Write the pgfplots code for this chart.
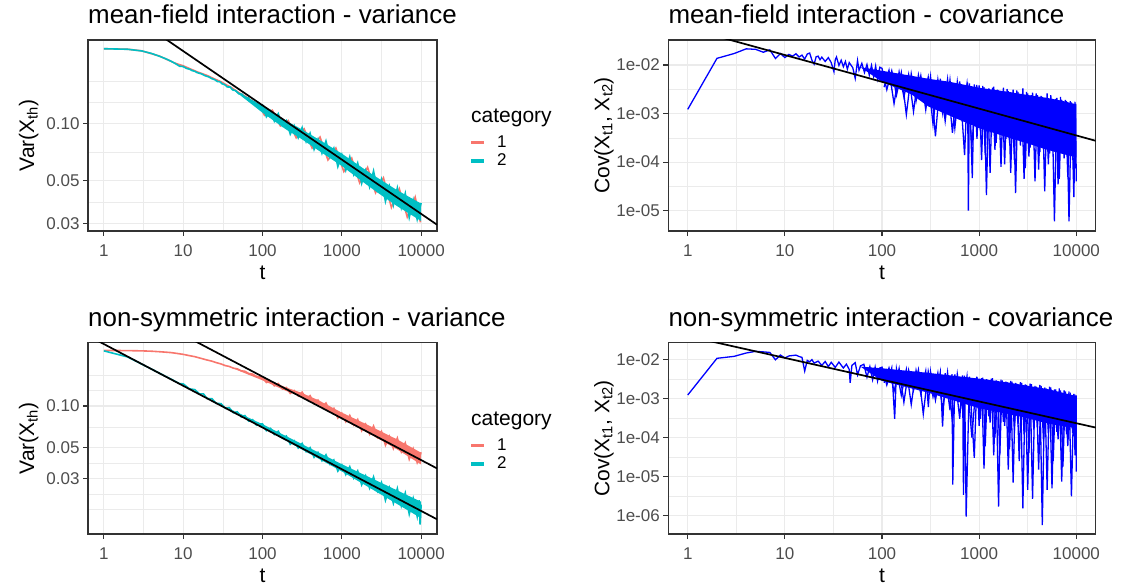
\documentclass[border=0pt]{standalone}
\usepackage{pgfplots}
\pgfplotsset{compat=1.18}
\usepackage{fontspec}
\setmainfont{Liberation Sans}
\definecolor{cA}{HTML}{F8766D}
\definecolor{cB}{HTML}{00BFC4}
\definecolor{gridc}{HTML}{EBEBEB}
\definecolor{framec}{HTML}{333333}
\definecolor{ticklab}{HTML}{4D4D4D}
\newcommand{\titlefont}{\fontsize{25.9}{30}\selectfont}
\newcommand{\labfont}{\fontsize{21}{25}\selectfont}
\newcommand{\tickfont}{\fontsize{17}{20}\selectfont}
\pgfplotsset{
  ggbase/.style={
    scale only axis,
    xmin=0.631, xmax=15849,
    xtick={1,10,100,1000,10000},
    xticklabels={1,10,100,1000,10000},
    minor xtick={3.162,31.62,316.2,3162},
    grid=both,
    major grid style={draw=gridc, line width=1.1pt},
    minor grid style={draw=gridc, line width=0.55pt},
    axis line style={draw=framec, line width=1.1pt},
    tick align=outside,
    xtick pos=bottom, ytick pos=left,
    major tick length=5pt, minor tick length=0pt,
    tick style={draw=framec, line width=1.1pt},
    tick label style={font=\tickfont, text=ticklab},
    xticklabel style={yshift=-5pt},
    xlabel={t},
    xlabel style={font=\labfont, at={(axis description cs:0.5,0)}, anchor=base, yshift=-48pt},
    ylabel style={font=\labfont, at={(axis description cs:0,0.5)}, anchor=base},
    title style={font=\titlefont, at={(axis description cs:0,1)}, anchor=base west, inner sep=0pt, yshift=10.4pt},
  },
}
\begin{document}
\begin{tikzpicture}
\path[use as bounding box] (0pt,0pt) rectangle (1147pt,587pt);

% ---------------- panel 1 ----------------
\begin{axis}[ggbase, xmode=log, ymode=log, name=a1, at={(88pt,356pt)}, anchor=south west,
  width=349pt, height=191pt,
  ymin=0.0273, ymax=0.2729,
  ytick={0.03,0.05,0.1}, yticklabels={0.03,0.05,0.10},
  minor ytick={0.0387,0.0707,0.1291,0.1667},
  title={mean-field interaction - variance},
  ylabel={Var(X\textsubscript{th})}, ylabel style={yshift=54pt},
  legend style={at={(axis description cs:1.0974,0.499)}, anchor=north west, draw=none, fill=none,
      inner sep=0pt, row sep=5pt, font=\tickfont, nodes={inner sep=0pt}},
  legend cell align=left]
\addlegendimage{legend image code/.code={\fill[cA] (0pt,-1.1pt) rectangle (12.3pt,1.1pt); \path (25.5pt,0pt);}}
\addlegendentry{1}
\addlegendimage{legend image code/.code={\fill[cB] (0pt,-1.1pt) rectangle (12.3pt,1.1pt); \path (25.5pt,0pt);}}
\addlegendentry{2}
\addplot[cA, line width=1.6pt, forget plot] coordinates {
(1,0.2457) (2,0.2442) (3,0.2395) (5,0.2250) (8,0.2060) (10,0.2000) (12,0.1935) (15,0.1860)
(20,0.1780) (25,0.1705) (30,0.1650) (35,0.1590) (40,0.1545) (50,0.1450) (60,0.1388) (70,0.1330)
(80,0.1278) (94,0.1208)
(106,0.1101) (133,0.1171) (168,0.0969) (211,0.1034) (266,0.0839) (335,0.0935) (422,0.0742)
(531,0.0847) (668,0.0643) (841,0.0742) (1059,0.0559) (1334,0.0656) (1679,0.0488) (2113,0.0588)
(2661,0.0433) (3350,0.0518) (4217,0.0363) (5309,0.0454) (6683,0.0323) (8414,0.0411) (9800,0.0303)
};
\addplot[cB, line width=1.6pt, forget plot] coordinates {
(1,0.2457) (2,0.2440) (3,0.2392) (4,0.2320) (5,0.2245) (6,0.2178) (7,0.2115) (8,0.2052) (9,0.1990)
(10,0.1982) (11,0.1938) (12,0.1920) (13,0.1887) (14,0.1872) (15,0.1842) (17,0.1815) (19,0.1772)
(21,0.1750) (23,0.1712) (25,0.1692) (27,0.1655) (29,0.1650) (31,0.1608) (33,0.1598) (36,0.1550)
(39,0.1548) (42,0.1495) (46,0.1482) (50,0.1428) (55,0.1420) (60,0.1365) (66,0.1358) (72,0.1292)
(79,0.1292) (87,0.1222) (94,0.1230)
(100,0.1244) (112,0.1081) (126,0.1160) (141,0.1026) (158,0.1122) (178,0.0971) (200,0.1032)
(224,0.0877) (251,0.0970) (282,0.0840) (316,0.0949) (355,0.0802) (398,0.0888) (447,0.0730)
(501,0.0825) (562,0.0697) (631,0.0807) (708,0.0665) (794,0.0740) (891,0.0593) (1000,0.0685)
(1122,0.0568) (1259,0.0667) (1413,0.0541) (1585,0.0619) (1778,0.0485) (1995,0.0566) (2239,0.0465)
(2512,0.0563) (2818,0.0448) (3162,0.0510) (3548,0.0390) (3981,0.0467) (4467,0.0373) (5012,0.0459)
(5623,0.0361) (6310,0.0430) (7079,0.0321) (7943,0.0396) (8913,0.0314) (10000,0.0383)
};
\addplot[cB, fill=cB, draw=none, forget plot] coordinates {
(40,0.1530) (100,0.1234) (200,0.1028) (300,0.0939) (500,0.0828) (1000,0.0694) (2000,0.0569) (3000,0.0510)
(5000,0.0446) (10000,0.0380) (10000,0.0308) (5000,0.0368) (3000,0.0426) (2000,0.0481)
(1000,0.0598) (500,0.0724) (300,0.0835) (200,0.0926) (100,0.1136) (40,0.1530)
};
\addplot[black, line width=1.7pt, forget plot] coordinates {(0.631,0.5236) (15849,0.02945)};
\end{axis}
\node[font=\labfont, anchor=base west, inner sep=0pt] at ([xshift=34pt, yshift=-82.7pt]a1.north east) {category};

% ---------------- panel 2 ----------------
\begin{axis}[ggbase, xmode=log, ymode=log, name=a2, at={(668.3pt,356pt)}, anchor=south west,
  width=427.4pt, height=191pt,
  ymin=3.82e-6, ymax=0.0327,
  ytick={1e-5,1e-4,1e-3,1e-2}, yticklabels={1e-05,1e-04,1e-03,1e-02},
  minor ytick={3.162e-5,3.162e-4,3.162e-3,3.162e-2},
  title={mean-field interaction - covariance},
  ylabel={Cov(X\textsubscript{t1}, X\textsubscript{t2})}, ylabel style={yshift=59pt}]
\addplot[blue, fill=blue, draw=none, forget plot] coordinates {
(60,9e-3) (100,7.6e-3) (200,6.0e-3) (300,5.2e-3) (500,4.5e-3) (1000,3.4e-3) (2000,2.8e-3) (3000,2.45e-3)
(5000,2.1e-3) (7000,1.85e-3) (10000,1.55e-3) (10000,1.25e-4) (7000,1.5e-4) (5000,1.8e-4)
(3000,2.5e-4) (2000,3.2e-4) (1000,5e-4) (500,9e-4) (300,1.4e-3) (200,2.5e-3) (100,4.5e-3) (60,9e-3)
};
\addplot[blue, line width=1.3pt] coordinates {
(105,3.5e-3) (118,7.8e-3) (133,1.6e-3) (150,7.2e-3) (168,2.2e-3) (188,6.4e-3) (211,1.1e-3) (237,6.2e-3)
(266,2.0e-3) (299,5.6e-3) (335,6.0e-4) (376,5.0e-3) (422,1.0e-3) (473,5.1e-3) (531,4.0e-4) (596,4.5e-3)
(668,8.0e-4) (750,4.1e-3) (841,2.2e-4) (944,3.9e-3) (1030,4.5e-4) (1090,3.7e-3) (1155,1.4e-4)
(1223,3.2e-3) (1296,6e-5) (1372,3.4e-3) (1454,1.8e-4) (1540,3.1e-3) (1631,4.0e-4) (1728,2.8e-3)
(1830,9e-5) (1939,3.2e-3) (2054,2.5e-4) (2175,2.7e-3) (2304,1.1e-4) (2441,3.0e-3) (2585,3.0e-4)
(2738,2.5e-3) (2901,4.5e-5) (3073,2.8e-3) (3255,1.3e-4) (3447,2.4e-3) (3652,2.6e-4) (3868,2.6e-3)
(4097,7e-5) (4340,2.3e-3) (4597,1.9e-4) (4870,2.1e-3) (5158,9e-5) (5464,2.4e-3) (5788,2.0e-4)
(6131,2.0e-3) (6494,3.5e-5) (6879,2.2e-3) (7286,1.5e-4) (7718,1.9e-3) (8175,5e-5) (8660,1.8e-3)
(9173,1.1e-4) (9716,1.75e-3)
};
\addplot[blue, line width=1.3pt] coordinates {
(1,1.22e-3) (2,0.0137) (3,0.0172) (4,0.0215) (5,0.0210) (6,0.0183) (7,0.0205) (8,0.0136) (9,0.0172)
(10,0.0142) (11,0.0165) (12,0.0152) (13,0.0170) (14,0.0146) (15,0.0160) (16,0.0132) (17,0.0168)
(18,0.0176) (19,0.0125) (20,0.0104) (21,0.0148) (22,0.0152) (23,0.0128) (24,0.0145) (26,0.0118)
(28,0.0142) (30,0.0112) (32,0.0073) (33,0.0128) (34,0.0146) (36,0.0098) (38,0.0125) (40,0.0092)
(42,0.0118) (44,0.0082) (46,0.0112) (50,0.0088) (53,0.0053) (56,0.0123) (58,0.0078) (62,0.0108)
(66,0.0070) (70,0.0102) (74,0.0062) (78,0.0098) (82,0.0058) (86,0.0095) (90,0.0052) (95,0.0090)
(100,8.5e-3) (112,3.1e-3) (126,7.6e-3) (141,2.4e-3) (158,7.0e-3) (178,9.5e-4) (200,6.6e-3)
(224,1.8e-3) (251,6.0e-3) (282,1.2e-3) (316,5.8e-3) (355,3.4e-4) (398,5.2e-3) (447,7.0e-4)
(501,4.9e-3) (562,5.0e-4) (631,4.6e-3) (708,1.4e-4) (760,4.4e-3) (775,1.0e-5) (794,4.2e-3)
(850,4.7e-5) (891,4.0e-3) (950,3.0e-4) (1000,3.8e-3) (1059,1.1e-4) (1122,3.5e-3) (1189,2.1e-5)
(1259,3.3e-3) (1334,3.5e-4) (1413,3.6e-3) (1496,2.5e-4) (1585,3.0e-3) (1679,8e-5) (1778,3.4e-3)
(1884,3.0e-4) (1995,2.9e-3) (2113,6e-5) (2239,3.1e-3) (2371,2.3e-5) (2512,2.8e-3) (2661,2.2e-4)
(2818,3.3e-3) (2985,7.5e-5) (3162,2.6e-3) (3350,2.0e-4) (3548,2.7e-3) (3758,4e-5) (3981,2.4e-3)
(4217,1.6e-4) (4467,2.2e-3) (4732,2.5e-5) (5012,2.6e-3) (5309,1.5e-4) (5623,2.0e-3) (5957,6e-6)
(6310,2.1e-3) (6683,4.5e-5) (7079,1.9e-3) (7499,1.2e-4) (7943,1.8e-3) (8414,6e-6) (8913,1.7e-3)
(9441,1.9e-5) (9800,1.6e-3) (10000,4e-5)
};
\addplot[black, line width=1.7pt] coordinates {(0.631,0.0737) (15849,2.748e-4)};
\end{axis}

% ---------------- panel 3 ----------------
\begin{axis}[ggbase, xmode=log, ymode=log, name=a3, at={(88pt,53pt)}, anchor=south west,
  width=349pt, height=191.3pt,
  ymin=0.0120, ymax=0.285,
  ytick={0.03,0.05,0.1}, yticklabels={0.03,0.05,0.10},
  minor ytick={0.01798,0.02322,0.0387,0.0707,0.1291,0.1667},
  title={non-symmetric interaction - variance},
  ylabel={Var(X\textsubscript{th})}, ylabel style={yshift=54pt},
  legend style={at={(axis description cs:1.0974,0.499)}, anchor=north west, draw=none, fill=none,
      inner sep=0pt, row sep=5pt, font=\tickfont, nodes={inner sep=0pt}},
  legend cell align=left]
\addlegendimage{legend image code/.code={\fill[cA] (0pt,-1.1pt) rectangle (12.3pt,1.1pt); \path (25.5pt,0pt);}}
\addlegendentry{1}
\addlegendimage{legend image code/.code={\fill[cB] (0pt,-1.1pt) rectangle (12.3pt,1.1pt); \path (25.5pt,0pt);}}
\addlegendentry{2}
\addplot[cA, line width=1.6pt, forget plot] coordinates {
(1,0.2510) (2,0.2500) (3,0.2490) (4,0.2475) (5,0.2455) (6,0.2437) (7,0.2420) (8,0.2395)
(10,0.2350) (12,0.2300) (14,0.2262) (17,0.2195) (20,0.2140) (23,0.2100) (26,0.2050) (30,0.2005)
(34,0.1950) (38,0.1925) (43,0.1870) (48,0.1848) (54,0.1790) (60,0.1775) (67,0.1712) (75,0.1695)
(84,0.1630) (94,0.1612)
(100,0.1605) (112,0.1474) (126,0.1509) (141,0.1396) (158,0.1450) (178,0.1325) (200,0.1358)
(224,0.1231) (251,0.1290) (282,0.1182) (316,0.1257) (355,0.1130) (398,0.1186) (447,0.1044)
(501,0.1102) (562,0.0977) (631,0.1049) (708,0.0917) (794,0.0962) (891,0.0819) (1000,0.0887)
(1122,0.0770) (1259,0.0855) (1413,0.0729) (1585,0.0800) (1778,0.0663) (1995,0.0740) (2239,0.0627)
(2512,0.0718) (2818,0.0594) (3162,0.0656) (3548,0.0522) (3981,0.0604) (4467,0.0495) (5012,0.0588)
(5623,0.0468) (6310,0.0542) (7079,0.0414) (7943,0.0492) (8913,0.0392) (10000,0.0464)
};
\addplot[cB, line width=1.6pt, forget plot] coordinates {
(1,0.2490) (2,0.2250) (3,0.2000) (4,0.1840) (5,0.1722) (6,0.1633) (7,0.1562) (8,0.1500) (9,0.1447)
(10,0.1442) (12,0.1327) (14,0.1311) (16,0.1223) (18,0.1222) (20,0.1131) (23,0.1129) (26,0.1045)
(30,0.1039) (34,0.0962) (38,0.0973) (43,0.0893) (48,0.0907) (54,0.0834) (60,0.0853) (67,0.0778)
(75,0.0797) (84,0.0727) (94,0.0744)
(100,0.07433) (112,0.06640) (126,0.06903) (141,0.06231) (158,0.06579) (178,0.05856) (200,0.06075)
(224,0.05300) (251,0.05626) (282,0.04984) (316,0.05385) (355,0.04695) (398,0.05014) (447,0.04277)
(501,0.04636) (562,0.04035) (631,0.04457) (708,0.03812) (794,0.04088) (891,0.03403) (1000,0.03769)
(1122,0.03209) (1259,0.03659) (1413,0.03027) (1585,0.03414) (1778,0.02709) (1995,0.03148)
(2239,0.02564) (2512,0.03089) (2818,0.02439) (3162,0.02811) (3548,0.02095) (3981,0.02576)
(4467,0.01996) (5012,0.02551) (5623,0.01910) (6310,0.02368) (7079,0.01670) (7943,0.02162)
(8913,0.01605) (9440,0.02100) (9700,0.01400) (10000,0.01950)
};
\addplot[cA, fill=cA, draw=none, forget plot] coordinates {
(40,0.1890) (100,0.1598) (200,0.1356) (300,0.1253) (500,0.1104) (1000,0.0896) (2000,0.0743) (3000,0.0663)
(5000,0.0574) (10000,0.0461) (10000,0.0379) (5000,0.0486) (3000,0.0574) (2000,0.0653)
(1000,0.0806) (500,0.1020) (300,0.1173) (200,0.1280) (100,0.1528) (40,0.1890)
};
\addplot[cB, fill=cB, draw=none, forget plot] coordinates {
(40,0.0945) (100,0.07390) (200,0.06059) (316,0.05309) (501,0.04651) (1000,0.03813) (1995,0.03164)
(3162,0.02794) (5012,0.02468) (10000,0.02046) (10000,0.01560) (5012,0.01968) (3162,0.02298)
(1995,0.02682) (1000,0.03381) (501,0.04199) (316,0.04851) (200,0.05605) (100,0.06960) (40,0.0945)
};
\addplot[black, line width=1.7pt, forget plot] coordinates {(0.631,0.320) (15849,0.01531)};
\addplot[black, line width=1.7pt, forget plot] coordinates {(0.631,0.743) (15849,0.03556)};
\end{axis}
\node[font=\labfont, anchor=base west, inner sep=0pt] at ([xshift=34pt, yshift=-82.7pt]a3.north east) {category};

% ---------------- panel 4 ----------------
\begin{axis}[ggbase, xmode=log, ymode=log, name=a4, at={(668.3pt,53pt)}, anchor=south west,
  width=427.4pt, height=191.3pt,
  ymin=3.40e-7, ymax=0.0266,
  ytick={1e-6,1e-5,1e-4,1e-3,1e-2}, yticklabels={1e-06,1e-05,1e-04,1e-03,1e-02},
  minor ytick={3.162e-6,3.162e-5,3.162e-4,3.162e-3},
  title={non-symmetric interaction - covariance},
  ylabel={Cov(X\textsubscript{t1}, X\textsubscript{t2})}, ylabel style={yshift=59pt}]
\addplot[blue, fill=blue, draw=none, forget plot] coordinates {
(60,6.5e-3) (100,5.9e-3) (300,4.5e-3) (1000,3.2e-3) (2000,2.55e-3) (3000,2.15e-3) (5000,1.75e-3) (10000,1.15e-3)
(10000,1.7e-4) (5000,2.3e-4) (3000,3.2e-4) (2000,4e-4) (1000,5.6e-4) (300,1.4e-3) (100,2.8e-3) (60,6.5e-3)
};
\addplot[blue, line width=1.3pt] coordinates {
(105,2.5e-3) (118,6.0e-3) (133,1.5e-3) (150,5.8e-3) (168,8e-4) (188,5.3e-3) (211,1.6e-3) (237,5.4e-3)
(266,4e-4) (299,4.9e-3) (335,1.1e-3) (376,4.5e-3) (422,5e-4) (473,4.6e-3) (531,2.5e-4) (596,4.2e-3)
(668,6e-4) (750,3.7e-3) (841,1.0e-4) (944,3.6e-3) (1030,3e-4) (1090,3.4e-3) (1155,6e-5) (1223,3.0e-3)
(1296,2.4e-4) (1372,3.3e-3) (1454,1.0e-4) (1540,2.8e-3) (1631,3.5e-5) (1728,2.9e-3) (1830,2.0e-4)
(1939,2.6e-3) (2054,5e-5) (2175,2.7e-3) (2304,1.5e-4) (2441,2.4e-3) (2585,2.5e-5) (2738,2.5e-3)
(2901,1.2e-4) (3073,2.2e-3) (3255,4e-5) (3447,2.3e-3) (3652,1.6e-4) (3868,2.0e-3) (4097,1.5e-5)
(4340,2.1e-3) (4597,8e-5) (4870,1.8e-3) (5158,1.3e-4) (5464,1.9e-3) (5788,2.5e-5) (6131,1.7e-3)
(6494,9e-5) (6879,1.6e-3) (7286,1.8e-5) (7718,1.5e-3) (8175,6e-5) (8660,1.4e-3) (9173,1.3e-4)
(9716,1.25e-3)
};
\addplot[blue, line width=1.3pt] coordinates {
(1,1.22e-3) (2,0.0106) (3,0.0119) (4,0.0145) (5,0.0160) (6,0.0155) (7,0.0150) (8,0.0097) (9,0.0129)
(10,0.0108) (11,0.0122) (12,0.0125) (13,0.0128) (14,0.0118) (15,0.0112) (16,5.0e-3) (17,9.4e-3)
(18,8.6e-3) (19,9.8e-3) (20,8.0e-3) (22,9.0e-3) (24,7.0e-3) (26,8.8e-3) (28,6.5e-3) (30,8.4e-3)
(33,6.2e-3) (36,8.5e-3) (40,6.0e-3) (43,7.5e-3) (46,5.5e-3) (47,2.5e-3) (49,7.0e-3) (53,8.2e-3)
(56,4.0e-3) (60,6.8e-3) (65,7.5e-3) (70,3.5e-3) (75,6.5e-3) (80,3.0e-3) (85,6.3e-3) (90,2.8e-3)
(95,6.0e-3)
(100,6.3e-3) (112,2.2e-3) (126,6.0e-3) (135,3.0e-4) (141,5.6e-3) (158,1.2e-3) (178,5.5e-3)
(200,7e-4) (224,5.2e-3) (251,1.3e-3) (282,5.0e-3) (300,6e-4) (316,4.8e-3) (355,9e-4) (398,4.6e-3)
(420,1.9e-4) (447,4.4e-3) (501,5e-4) (525,4.2e-3) (535,6.2e-6) (562,4.1e-3) (631,3e-4) (675,3.9e-3)
(690,3.4e-6) (708,3.8e-3) (735,9.5e-7) (794,3.6e-3) (891,3e-5) (950,3.5e-3) (1000,2e-4)
(1059,3.3e-3) (1122,1.6e-5) (1189,3.1e-3) (1259,3.5e-4) (1334,3.2e-3) (1413,3.5e-5) (1496,2.9e-3)
(1585,1.7e-6) (1679,3.0e-3) (1778,2.5e-4) (1884,2.7e-3) (1995,1.5e-5) (2113,2.8e-3) (2239,7e-6)
(2371,2.5e-3) (2512,2.2e-4) (2661,2.6e-3) (2818,1.55e-6) (2985,2.3e-3) (3162,4.6e-6) (3350,2.4e-3)
(3548,2.7e-6) (3758,2.1e-3) (3981,1.8e-4) (4217,2.2e-3) (4467,5.7e-7) (4732,1.9e-3) (5012,4.6e-6)
(5309,2.0e-3) (5623,5.0e-6) (5957,1.7e-3) (6310,1.4e-4) (6683,1.8e-3) (7079,7.4e-6) (7499,1.6e-3)
(7943,1.2e-4) (8414,1.5e-3) (8913,3.1e-6) (9441,1.3e-3) (9700,3.5e-5) (10000,1.2e-3) (10000,1.35e-5)
};
\addplot[black, line width=1.7pt] coordinates {(0.631,0.0506) (15849,1.794e-4)};
\end{axis}
\end{tikzpicture}
\end{document}
